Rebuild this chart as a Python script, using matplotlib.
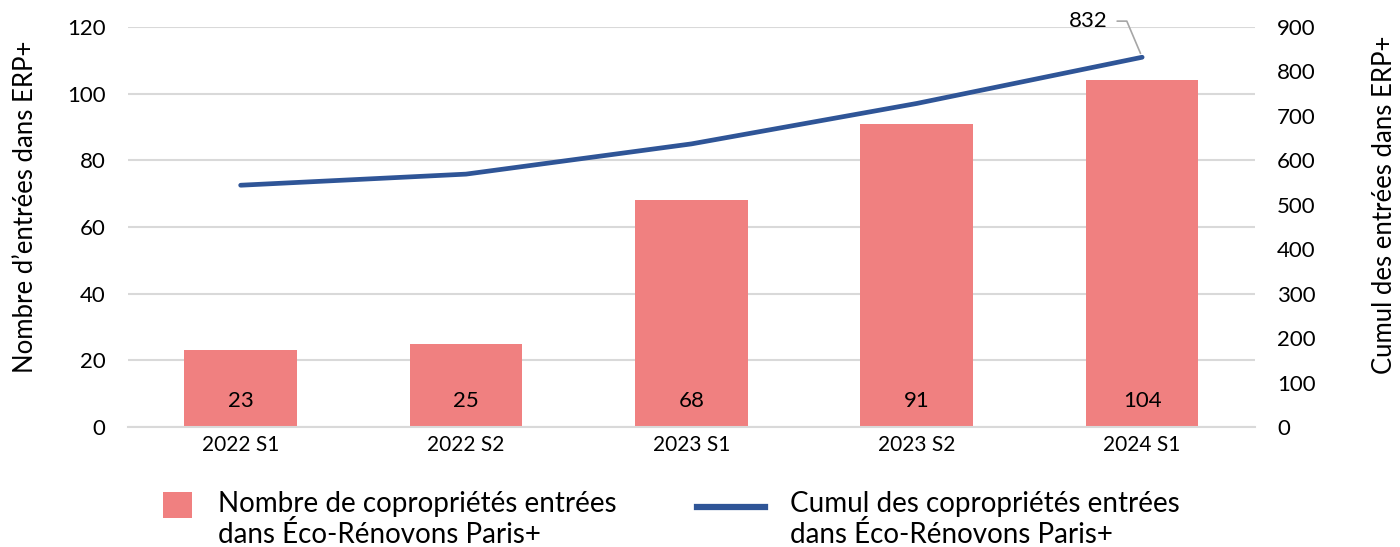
import matplotlib
matplotlib.use("Agg")
import matplotlib.pyplot as plt
from matplotlib.patches import Rectangle
from matplotlib.lines import Line2D

plt.rcParams['font.family'] = ['Lato', 'DejaVu Sans']

# Données
periodes = ['2022 S1', '2022 S2', '2023 S1', '2023 S2', '2024 S1']
entrees = [23, 25, 68, 91, 104]
cumul = [544, 569, 637, 728, 832]

couleur_barre = '#F08080'
couleur_ligne = '#2F5597'

fig = plt.figure(figsize=(14, 5.47), dpi=100)
ax = fig.add_axes([0.0914, 0.2194, 0.8049, 0.7312])
ax2 = ax.twinx()

x = list(range(len(periodes)))
ax.bar(x, entrees, width=0.5, color=couleur_barre, zorder=2)
ax.set_xlim(-0.5, 4.5)
ax.set_ylim(0, 120)
ax.set_yticks(range(0, 121, 20))
ax.set_xticks(x)
ax.set_xticklabels(periodes, fontsize=15)
ax.tick_params(axis='x', length=0, pad=6)
ax.tick_params(axis='y', length=0, labelsize=16, pad=16)
ax.grid(axis='y', color='#d9d9d9', linewidth=1.5, zorder=0)
ax.set_axisbelow(True)
for s in ax.spines.values():
    s.set_visible(False)
ax.spines['bottom'].set_visible(True)
ax.spines['bottom'].set_color('#d9d9d9')
ax.spines['bottom'].set_linewidth(1.5)

# Valeurs au pied des barres
for xi, v in zip(x, entrees):
    ax.text(xi, 7.8, str(v), ha='center', va='center', fontsize=16, color='black', zorder=3)

ax.set_ylabel("Nombre d\u2019entrées dans ERP+", fontsize=18.5)
ax.yaxis.set_label_coords(-0.080, 0.55)

# Courbe du cumul
ax2.plot(x, cumul, color=couleur_ligne, linewidth=3.4, solid_capstyle='round', zorder=4)
ax2.set_ylim(0, 900)
ax2.set_yticks(range(0, 901, 100))
ax2.tick_params(axis='y', length=0, labelsize=16, pad=16)
for s in ax2.spines.values():
    s.set_visible(False)
ax2.set_ylabel("Cumul des entrées dans ERP+", fontsize=18.5)
ax2.yaxis.set_label_coords(1.104, 0.555)
ax.set_zorder(ax2.get_zorder() - 1)
ax2.patch.set_visible(False)

# Étiquette de la dernière valeur
ax2.annotate(str(cumul[-1]), xy=(x[-1], cumul[-1]), xytext=(-25, 26), textcoords='offset points',
             ha='right', va='center', fontsize=16,
             arrowprops=dict(arrowstyle='-', color='#a6a6a6', linewidth=1.2,
                             connectionstyle='angle,angleA=0,angleB=113,rad=0',
                             shrinkA=5, shrinkB=3))

# Légende (dessinée à la main sous le graphique)
fig.add_artist(Rectangle((0.1164, 0.0530), 0.0207, 0.0475, transform=fig.transFigure,
                         facecolor=couleur_barre, edgecolor='none'))
fig.text(0.1557, 0.102, 'Nombre de copropriétés entrées\ndans Éco-Rénovons Paris+',
         fontsize=20, va='top', ha='left', linespacing=1.15)
fig.add_artist(Line2D([0.4979, 0.5464], [0.0731, 0.0731], transform=fig.transFigure,
                      color=couleur_ligne, linewidth=4.5))
fig.text(0.5643, 0.102, 'Cumul des copropriétés entrées\ndans Éco-Rénovons Paris+',
         fontsize=20, va='top', ha='left', linespacing=1.15)

fig.savefig('out.png', dpi=100)
